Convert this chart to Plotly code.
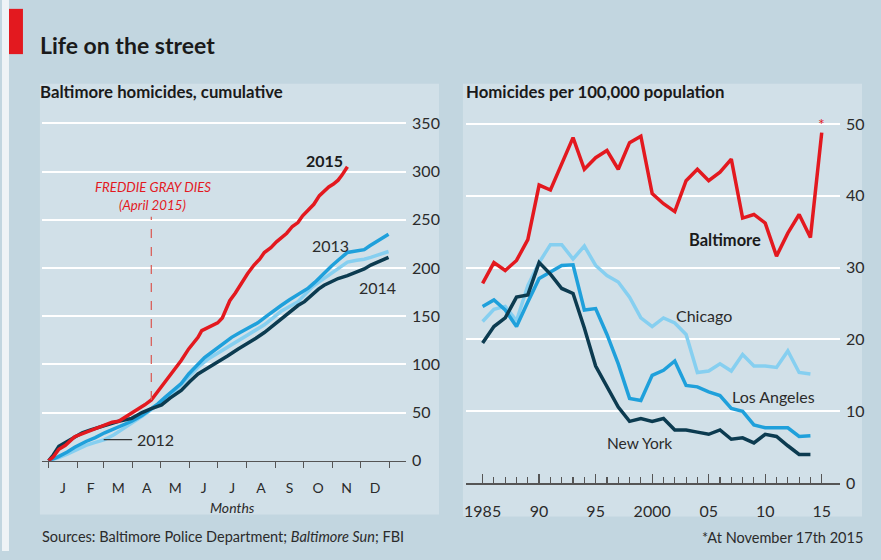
import plotly.graph_objects as go

W, H = 881, 560

# ---------------- Left chart data: cumulative Baltimore homicides ----------------
days_2012 = [0, 10, 20, 30, 40, 50, 60, 70, 80, 89, 100, 110, 125, 135, 145, 153, 160, 170, 180, 189,
             196, 205, 214, 222, 231, 240, 249, 258, 267, 275, 282, 289, 295, 303, 310, 320, 330, 338,
             345, 352, 358, 364]
vals_2012 = [0, 3, 7, 12, 16, 19, 22, 27, 33, 39, 46, 53, 63, 72, 82, 90, 97, 105, 111, 116,
             121, 126, 131, 136, 141, 148, 155, 160, 165, 173, 180, 185, 189, 195, 200, 206, 208, 209,
             211, 213, 215, 217]

days_2013 = [0, 10, 20, 28, 40, 50, 60, 70, 80, 89, 100, 110, 117, 125, 133, 142, 150, 160, 167, 174,
             181, 188, 196, 205, 214, 224, 232, 240, 249, 258, 267, 272, 278, 285, 292, 298, 303, 310,
             316, 320, 326, 332, 338, 344, 349, 355, 360, 364]
vals_2013 = [0, 4, 9, 14, 20, 24, 29, 33, 37, 41, 47, 54, 59, 66, 73, 80, 90, 100, 107, 112,
             117, 122, 128, 133, 138, 143, 149, 155, 161, 167, 172, 175, 179, 185, 192, 198, 202, 208,
             213, 216, 217, 218, 219, 223, 226, 229, 232, 235]

days_2014 = [0, 5, 11, 18, 28, 36, 45, 55, 65, 75, 89, 100, 110, 121, 130, 142, 151, 160, 170, 181,
             192, 203, 212, 222, 231, 240, 247, 253, 260, 267, 274, 282, 289, 295, 303, 310, 320, 328,
             338, 345, 352, 358, 364]
vals_2014 = [0, 6, 15, 19, 25, 29, 32, 35, 38, 41, 44, 50, 54, 58, 65, 73, 82, 90, 96, 102,
             109, 116, 121, 127, 133, 140, 146, 151, 156, 161, 165, 172, 178, 182, 186, 189, 192, 195,
             199, 203, 206, 209, 211]

days_2015 = [0, 5, 11, 18, 28, 36, 43, 52, 60, 68, 75, 82, 89, 96, 103, 110, 117, 125, 133, 142,
             150, 156, 160, 164, 170, 176, 181, 186, 190, 194, 200, 207, 213, 220, 226, 231, 238, 244,
             249, 255, 261, 267, 272, 278, 284, 290, 295, 300, 305, 310, 314, 317, 320]
vals_2015 = [0, 4, 12, 16, 25, 28, 31, 34, 37, 40, 41, 45, 49, 54, 58, 63, 72, 82, 93, 104,
             116, 124, 128, 135, 138, 141, 143, 148, 156, 166, 174, 185, 194, 203, 209, 216, 221, 227,
             231, 236, 243, 247, 254, 260, 266, 275, 280, 284, 287, 291, 296, 300, 305]

month_starts = [0, 31, 59, 90, 120, 151, 181, 212, 243, 273, 304, 334, 365]
month_labels = ["J", "F", "M", "A", "M", "J", "J", "A", "S", "O", "N", "D"]
left_yticks = [0, 50, 100, 150, 200, 250, 300, 350]
freddie_day = 110

# ---------------- Right chart data: homicides per 100,000 ----------------
years = list(range(1985, 2016))
baltimore = [27.8, 30.7, 29.6, 31.0, 33.9, 41.5, 40.8, 44.4, 48.1, 43.7, 45.3, 46.3, 43.7, 47.4, 48.3,
             40.3, 38.9, 37.8, 42.1, 43.7, 42.1, 43.3, 45.1, 36.9, 37.4, 36.2, 31.6, 34.8, 37.4, 34.2, 48.8]
years_other = list(range(1985, 2015))
chicago = [22.5, 24.2, 24.6, 22.6, 27.5, 30.7, 33.2, 33.2, 31.2, 33.0, 30.3, 28.9, 28.0, 25.9, 23.0,
           21.8, 23.0, 22.3, 20.7, 15.4, 15.6, 16.6, 15.6, 17.9, 16.3, 16.3, 16.1, 18.4, 15.4, 15.2]
los_angeles = [24.6, 25.5, 24.1, 21.8, 25.2, 28.5, 29.4, 30.3, 30.4, 24.1, 24.3, 20.7, 16.6, 11.8, 11.5,
               15.0, 15.7, 17.0, 13.6, 13.4, 12.7, 12.2, 10.4, 10.0, 8.1, 7.7, 7.7, 7.7, 6.5, 6.6]
new_york = [19.5, 21.8, 23.0, 25.9, 26.2, 30.7, 29.1, 27.1, 26.4, 21.6, 16.3, 13.4, 10.6, 8.6, 9.0,
            8.6, 9.0, 7.4, 7.4, 7.1, 6.8, 7.4, 6.1, 6.3, 5.6, 6.8, 6.5, 5.2, 4.0, 4.0]
right_xticks = [1985, 1990, 1995, 2000, 2005, 2010, 2015]
right_xticktext = ["1985", "90", "95", "2000", "05", "10", "15"]
right_yticks = [0, 10, 20, 30, 40, 50]

# ---------------- Styling ----------------
FONT = "Lato, 'Open Sans', sans-serif"
TXT = "#2b2b2b"
RED = "#e3191f"
C_LIGHT = "#86cff0"
C_MED = "#1fa0db"
C_DARK = "#0c3b50"
OUTER = "#c2d6e0"
PANEL = "#d1e0e8"
LW = 3.5


def px(x):
    return x / W


def py(y):
    return 1 - y / H


fig = go.Figure()

for d, v, c in [(days_2012, vals_2012, C_LIGHT), (days_2013, vals_2013, C_MED),
                (days_2014, vals_2014, C_DARK), (days_2015, vals_2015, RED)]:
    fig.add_trace(go.Scatter(x=d, y=v, mode="lines", line=dict(color=c, width=LW),
                             xaxis="x", yaxis="y", hoverinfo="skip", showlegend=False))

for xs, v, c in [(years_other, chicago, C_LIGHT), (years_other, los_angeles, C_MED),
                 (years_other, new_york, C_DARK), (years, baltimore, RED)]:
    fig.add_trace(go.Scatter(x=xs, y=v, mode="lines", line=dict(color=c, width=LW),
                             xaxis="x2", yaxis="y2", hoverinfo="skip", showlegend=False))

# Left axes geometry: day 0 at 46.7px, 0.936 px/day; value 0 at 468.3px, 0.98 px/unit
lx0, lx1 = 40, 405
ly_top, ly_bot = 110, 468.3
lxr = [(lx0 - 46.7) / 0.936, (lx1 - 46.7) / 0.936]
lyr = [0, (ly_bot - ly_top) / 0.98]

# Right axes geometry: 1985 at 481.7px, 11.33 px/year; value 0 at 491px, 7.3 px/unit
rx0, rx1 = 465, 840
ry_top, ry_bot = 110, 491
rxr = [1985 + (rx0 - 481.7) / 11.33, 1985 + (rx1 - 481.7) / 11.33]
ryr = [0, (ry_bot - ry_top) / 7.3]

tickfont = dict(family=FONT, size=16, color=TXT)

fig.update_layout(
    width=W, height=H,
    margin=dict(l=0, r=0, t=0, b=0),
    paper_bgcolor=OUTER,
    plot_bgcolor="rgba(0,0,0,0)",
    showlegend=False,
    xaxis=dict(domain=[px(lx0), px(lx1)], range=lxr, anchor="y",
               tickmode="array",
               tickvals=[(month_starts[i] + month_starts[i + 1]) / 2 for i in range(12)],
               ticktext=month_labels, ticks="", ticklabelstandoff=14,
               tickfont=dict(family=FONT, size=14, color=TXT),
               minor=dict(tickmode="array", tickvals=month_starts, ticks="outside",
                          ticklen=6, tickwidth=1.3, tickcolor="#555", showgrid=False),
               showline=True, linecolor="#555", linewidth=1.5,
               showgrid=False, zeroline=False, fixedrange=True),
    yaxis=dict(domain=[py(ly_bot), py(ly_top)], range=lyr, anchor="x", side="right",
               tickmode="array", tickvals=left_yticks, ticks="",
               tickfont=tickfont, ticklabelstandoff=5,
               showgrid=True, gridcolor="white", gridwidth=2,
               zeroline=False, showline=False, fixedrange=True),
    xaxis2=dict(domain=[px(rx0), px(rx1)], range=rxr, anchor="y2",
                tickmode="array", tickvals=right_xticks, ticktext=right_xticktext,
                ticks="inside", ticklen=9, tickwidth=1.3, tickcolor="#555",
                ticklabelstandoff=13, tickfont=tickfont,
                minor=dict(tickmode="array", tickvals=years, ticks="inside",
                           ticklen=6, tickwidth=1.1, tickcolor="#555", showgrid=False),
                showline=True, linecolor="#555", linewidth=1.5,
                showgrid=False, zeroline=False, fixedrange=True),
    yaxis2=dict(domain=[py(ry_bot), py(ry_top)], range=ryr, anchor="x2", side="right",
                tickmode="array", tickvals=right_yticks, ticks="",
                tickfont=tickfont, ticklabelstandoff=5,
                showgrid=True, gridcolor="white", gridwidth=2,
                zeroline=False, showline=False, fixedrange=True),
)

shapes = [
    dict(type="rect", xref="paper", yref="paper", x0=px(38), x1=px(438), y0=py(523), y1=py(85),
         fillcolor=PANEL, line=dict(width=0), layer="below"),
    dict(type="rect", xref="paper", yref="paper", x0=px(462), x1=px(862), y0=py(525), y1=py(85),
         fillcolor=PANEL, line=dict(width=0), layer="below"),
    dict(type="rect", xref="paper", yref="paper", x0=0, x1=px(7), y0=0, y1=1,
         fillcolor="#eef3f6", line=dict(width=0), layer="below"),
    dict(type="rect", xref="paper", yref="paper", x0=px(7), x1=px(21), y0=py(55), y1=py(9),
         fillcolor=RED, line=dict(width=0), layer="above"),
    dict(type="line", xref="x", yref="y", x0=freddie_day, x1=freddie_day, y0=63, y1=253,
         line=dict(color="#d9605a", width=1.3, dash="dash"), layer="above"),
    dict(type="line", xref="x", yref="y", x0=59, x1=89.5, y0=22, y1=22,
         line=dict(color="#333", width=1.2), layer="above"),
]

annotations = [
    dict(text="<b>Life on the street</b>", xref="paper", yref="paper", x=px(36), y=py(46),
         xanchor="left", yanchor="middle", showarrow=False,
         font=dict(family=FONT, size=23, color="#1a1a1a")),
    dict(text="<b>Baltimore homicides, cumulative</b>", xref="paper", yref="paper", x=px(36), y=py(93),
         xanchor="left", yanchor="middle", showarrow=False,
         font=dict(family=FONT, size=16.8, color="#1a1a1a")),
    dict(text="<b>Homicides per 100,000 population</b>", xref="paper", yref="paper", x=px(463), y=py(93),
         xanchor="left", yanchor="middle", showarrow=False,
         font=dict(family=FONT, size=16.8, color="#1a1a1a")),
    dict(text="<i>Months</i>", xref="paper", yref="paper", x=px(231), y=py(516),
         xanchor="center", yanchor="middle", showarrow=False,
         font=dict(family=FONT, size=14, color=TXT)),
    dict(text="Sources: Baltimore Police Department; <i>Baltimore Sun</i>; FBI", xref="paper", yref="paper",
         x=px(38), y=py(545), xanchor="left", yanchor="middle", showarrow=False,
         font=dict(family=FONT, size=14.5, color=TXT)),
    dict(text="*At November 17th 2015", xref="paper", yref="paper",
         x=px(865), y=py(546), xanchor="right", yanchor="middle", showarrow=False,
         font=dict(family=FONT, size=14.5, color=TXT)),
    dict(text="<i>FREDDIE GRAY DIES</i>", xref="x", yref="y", x=111.5, y=284,
         xanchor="center", yanchor="middle", showarrow=False,
         font=dict(family=FONT, size=13.3, color=RED)),
    dict(text="<i>(April 2015)</i>", xref="x", yref="y", x=111.5, y=265.5,
         xanchor="center", yanchor="middle", showarrow=False,
         font=dict(family=FONT, size=13.3, color=RED)),
    dict(text="<b>2015</b>", xref="x", yref="y", x=295, y=311.5,
         xanchor="center", yanchor="middle", showarrow=False,
         font=dict(family=FONT, size=16, color="#1a1a1a")),
    dict(text="2013", xref="x", yref="y", x=302, y=223,
         xanchor="center", yanchor="middle", showarrow=False,
         font=dict(family=FONT, size=16, color=TXT)),
    dict(text="2014", xref="x", yref="y", x=352, y=180,
         xanchor="center", yanchor="middle", showarrow=False,
         font=dict(family=FONT, size=16, color=TXT)),
    dict(text="2012", xref="x", yref="y", x=92, y=22,
         xanchor="left", yanchor="middle", showarrow=False,
         font=dict(family=FONT, size=16, color=TXT)),
    dict(text="<b>Baltimore</b>", xref="x2", yref="y2", x=2006.4, y=33.9,
         xanchor="center", yanchor="middle", showarrow=False,
         font=dict(family=FONT, size=16.5, color="#1a1a1a")),
    dict(text="Chicago", xref="x2", yref="y2", x=2004.6, y=23.4,
         xanchor="center", yanchor="middle", showarrow=False,
         font=dict(family=FONT, size=16, color=TXT)),
    dict(text="Los Angeles", xref="x2", yref="y2", x=2010.7, y=12.05,
         xanchor="center", yanchor="middle", showarrow=False,
         font=dict(family=FONT, size=16, color=TXT)),
    dict(text="New York", xref="x2", yref="y2", x=1998.9, y=5.6,
         xanchor="center", yanchor="middle", showarrow=False,
         font=dict(family=FONT, size=15.5, color=TXT)),
    dict(text="*", xref="x2", yref="y2", x=2015, y=50.0,
         xanchor="center", yanchor="middle", showarrow=False,
         font=dict(family=FONT, size=16, color=RED)),
]

fig.update_layout(shapes=shapes, annotations=annotations)
fig.write_html(
    "out.html",
    config={"displayModeBar": False, "staticPlot": True},
    post_script=(
        "document.body.style.margin='0';"
        "document.body.style.background='" + OUTER + "';"
        "document.body.style.overflow='hidden';"
    ),
)
